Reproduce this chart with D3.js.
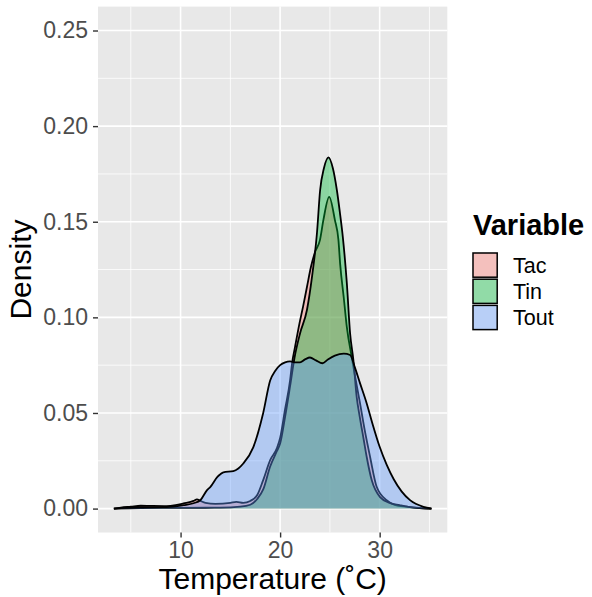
<!DOCTYPE html>
<html>
<head>
<meta charset="utf-8">
<script src="https://cdn.jsdelivr.net/npm/d3@7"></script>
<style>
  body { margin: 0; background: #fff; }
  text { font-family: "Liberation Sans", Arial, sans-serif; }
</style>
</head>
<body>
<div id="chart"></div>
<script>
// density curves: [temperature, density]
const tacPoints = [
  [3.3, 0], [4, 0.0005], [5, 0.001], [6, 0.0015], [7, 0.0014], [8.6, 0.0013], [9.5, 0.0018],
  [10.3, 0.0027], [11.3, 0.004], [11.65, 0.0048], [12, 0.004], [12.5, 0.003], [13.5, 0.0025],
  [15, 0.003], [15.6, 0.0035], [16.3, 0.003], [17, 0.004], [17.7, 0.0071], [18.3, 0.0149],
  [19.0, 0.0254], [19.67, 0.0315], [20.0, 0.037], [20.5, 0.052], [21.0, 0.067], [21.2, 0.076],
  [21.5, 0.0846], [21.95, 0.097], [22.3, 0.1055], [22.7, 0.116], [23.1, 0.1265], [23.5, 0.134],
  [24.0, 0.1404], [24.35, 0.151], [24.93, 0.163], [25.5, 0.151], [25.86, 0.1404], [26.03, 0.128],
  [26.4, 0.11], [26.7, 0.095], [27.2, 0.079], [27.5, 0.07], [28.03, 0.055], [28.5, 0.041],
  [29.04, 0.027], [29.7, 0.0114], [30.7, 0.0044], [31.5, 0.002], [32.7, 0.001], [34, 0.0003], [35.2, 0]
];
const tinPoints = [
  [3.3, 0], [6, 0.0003], [10, 0.0004], [14, 0.0005], [16, 0.001], [17, 0.002], [17.7, 0.005],
  [18.3, 0.01], [19.0, 0.022], [19.67, 0.03], [20.0, 0.034], [20.5, 0.048], [21.0, 0.064],
  [21.45, 0.079], [22.0, 0.0916], [22.7, 0.104], [23.2, 0.121], [23.7, 0.144], [24.02, 0.1666],
  [24.4, 0.178], [24.86, 0.1837], [25.3, 0.178], [25.7, 0.1666], [26.0, 0.155], [26.3, 0.142],
  [26.7, 0.118], [27.03, 0.0916], [27.36, 0.0777], [27.7, 0.058], [28.0, 0.048], [28.4, 0.036],
  [28.7, 0.027], [29.2, 0.0149], [30.04, 0.006], [31, 0.003], [32, 0.0018], [33, 0.0008], [35.2, 0]
];
const toutPoints = [
  [3.3, 0], [6, 0.0008], [8.6, 0.0008], [10.3, 0.0018], [11.3, 0.0028], [12, 0.0045],
  [12.66, 0.0097], [13, 0.0114], [13.7, 0.0166], [14, 0.018], [14.3, 0.019], [15.3, 0.0196],
  [15.8, 0.021], [16.3, 0.0236], [17.3, 0.032], [18.3, 0.05], [19, 0.067], [19.5, 0.072],
  [20, 0.075], [20.5, 0.0765], [21, 0.077], [21.5, 0.0765], [22, 0.0765], [22.5, 0.078],
  [23, 0.079], [23.6, 0.0775], [24.25, 0.076], [24.8, 0.078], [25.5, 0.08], [26.4, 0.081],
  [27.03, 0.0803], [27.5, 0.074], [28, 0.066], [28.7, 0.055], [29.3, 0.044], [30, 0.0323],
  [30.7, 0.023], [31.4, 0.0155], [32.2, 0.009], [33.05, 0.0044], [34.4, 0.0009], [35.2, 0]
];

const variables = ["Tac", "Tin", "Tout"];
const colors = ["#F8766D", "#00BA38", "#619CFF"];
const xTicks = [10, 20, 30];
const xMinor = [5, 15, 25, 35];
const yTicks = [0, 0.05, 0.10, 0.15, 0.20, 0.25];
const yMinor = [0.025, 0.075, 0.125, 0.175, 0.225];

const series = [tacPoints, tinPoints, toutPoints];

const width = 592, height = 597;
const panel = { left: 98, right: 447.3, top: 6.6, bottom: 532.5 };
const fillAlpha = 0.4;

const svg = d3.select("#chart").append("svg")
  .attr("width", width)
  .attr("height", height);

// ggplot style 5% expansion; y limits fixed at 0..0.25
const xExt = [3.3, 35.2];
const xPad = (xExt[1] - xExt[0]) * 0.05;
const xScale = d3.scaleLinear()
  .domain([xExt[0] - xPad, xExt[1] + xPad])
  .range([panel.left, panel.right]);
const yScale = d3.scaleLinear()
  .domain([-0.0125, 0.2625])
  .range([panel.bottom, panel.top]);

// panel background
svg.append("rect")
  .attr("x", panel.left)
  .attr("y", panel.top)
  .attr("width", panel.right - panel.left)
  .attr("height", panel.bottom - panel.top)
  .attr("fill", "#E8E8E8");

let grid = svg.append("g");

grid.selectAll(".xminor").data(xMinor).enter().append("line")
  .attr("x1", d => xScale(d)).attr("x2", d => xScale(d))
  .attr("y1", panel.top).attr("y2", panel.bottom)
  .attr("stroke", "#fff").attr("stroke-width", 0.8);
grid.selectAll(".yminor").data(yMinor).enter().append("line")
  .attr("y1", d => yScale(d)).attr("y2", d => yScale(d))
  .attr("x1", panel.left).attr("x2", panel.right)
  .attr("stroke", "#fff").attr("stroke-width", 0.8);
grid.selectAll(".xmajor").data(xTicks).enter().append("line")
  .attr("x1", d => xScale(d)).attr("x2", d => xScale(d))
  .attr("y1", panel.top).attr("y2", panel.bottom)
  .attr("stroke", "#fff").attr("stroke-width", 1.6);
grid.selectAll(".ymajor").data(yTicks).enter().append("line")
  .attr("y1", d => yScale(d)).attr("y2", d => yScale(d))
  .attr("x1", panel.left).attr("x2", panel.right)
  .attr("stroke", "#fff").attr("stroke-width", 1.6);

// density areas, drawn in group order
const area = d3.area()
  .x(d => xScale(d[0]))
  .y0(yScale(0))
  .y1(d => yScale(d[1]))
  .curve(d3.curveMonotoneX);
const line = d3.line()
  .x(d => xScale(d[0]))
  .y(d => yScale(d[1]))
  .curve(d3.curveMonotoneX);

series.forEach((pts, i) => {
  svg.append("path")
    .attr("d", area(pts))
    .attr("fill", colors[i])
    .attr("fill-opacity", fillAlpha);
  svg.append("path")
    .attr("d", line(pts))
    .attr("fill", "none")
    .attr("stroke", "#000")
    .attr("stroke-width", 1.8);
});

// axes
const xAxis = d3.axisBottom(xScale).tickValues(xTicks).tickSize(5).tickPadding(4)
  .tickFormat(d3.format("d"));
const yAxis = d3.axisLeft(yScale).tickValues(yTicks).tickSize(5).tickPadding(5)
  .tickFormat(d3.format(".2f"));

const xAxisGroup = svg.append("g")
  .attr("transform", `translate(0,${panel.bottom})`)
  .call(xAxis);
const yAxisGroup = svg.append("g")
  .attr("transform", `translate(${panel.left},0)`)
  .call(yAxis);

[xAxisGroup, yAxisGroup].forEach(g => {
  g.select(".domain").remove();
  g.selectAll(".tick line").attr("stroke", "#333").attr("stroke-width", 1.4);
  g.selectAll(".tick text")
    .attr("fill", "#4D4D4D")
    .style("font-size", "23px")
    .style("font-family", "'Liberation Sans', Arial, sans-serif");
});

// axis titles
svg.append("text")
  .attr("x", (panel.left + panel.right) / 2)
  .attr("y", 589)
  .attr("text-anchor", "middle")
  .style("font-size", "30px")
  .text("Temperature (\u02DAC)");

svg.append("text")
  .attr("transform", `translate(31,${(panel.top + panel.bottom) / 2}) rotate(-90)`)
  .attr("text-anchor", "middle")
  .style("font-size", "30px")
  .text("Density");

// legend
const legend = svg.append("g");
legend.append("text")
  .attr("x", 473)
  .attr("y", 235)
  .style("font-size", "29px")
  .style("font-weight", "bold")
  .text("Variable");

const keyH = 26.2, keyTop = 252;
const keys = legend.selectAll(".key").data(variables).enter().append("g")
  .attr("transform", (d, i) => `translate(472,${keyTop + i * keyH})`);
keys.append("rect")
  .attr("width", 26.2).attr("height", keyH)
  .attr("fill", "#F2F2F2");
keys.append("rect")
  .attr("x", 1).attr("y", 1)
  .attr("width", 24.2).attr("height", keyH - 2)
  .attr("fill", (d, i) => colors[i])
  .attr("fill-opacity", fillAlpha)
  .attr("stroke", "#000")
  .attr("stroke-width", 1.5);
keys.append("text")
  .attr("x", 41)
  .attr("y", keyH / 2)
  .attr("dy", "0.35em")
  .style("font-size", "21.5px")
  .text(d => d);
</script>
</body>
</html>
